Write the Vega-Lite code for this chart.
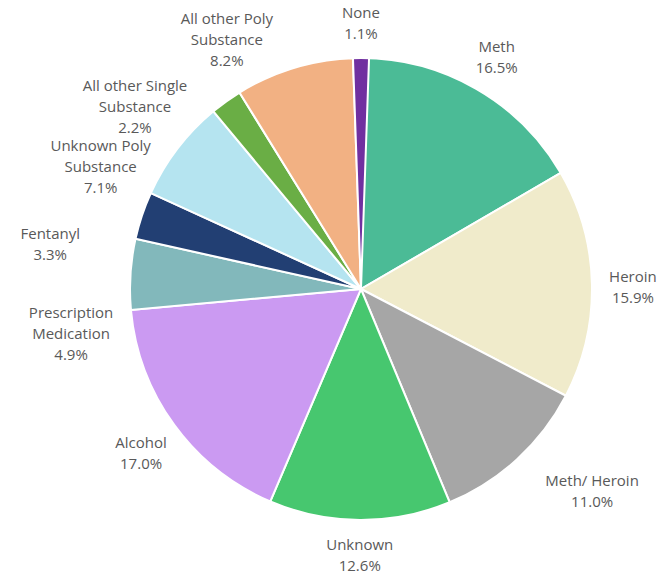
{
  "$schema": "https://vega.github.io/schema/vega-lite/v6.json",
  "width": 622,
  "height": 574,
  "autosize": "none",
  "padding": {"left": 50, "top": 2, "right": 0, "bottom": 0},
  "background": "white",
  "view": {"stroke": null},
  "config": {
    "text": {"font": "Open Sans", "fontSize": 15, "lineHeight": 21, "color": "#595959", "align": "center", "baseline": "middle", "lineBreak": "\n"}
  },
  "data": {
    "values": [
      {"name": "Meth", "pct": 16.5},
      {"name": "Heroin", "pct": 15.9},
      {"name": "Meth/ Heroin", "pct": 11.0},
      {"name": "Unknown", "pct": 12.6},
      {"name": "Alcohol", "pct": 17.0},
      {"name": "Prescription\nMedication", "pct": 4.9},
      {"name": "Fentanyl", "pct": 3.3},
      {"name": "Unknown Poly\nSubstance", "pct": 7.1},
      {"name": "All other Single\nSubstance", "pct": 2.2},
      {"name": "All other Poly\nSubstance", "pct": 8.2},
      {"name": "None", "pct": 1.1}
    ]
  },
  "transform": [
    {"window": [{"op": "row_number", "as": "idx"}]},
    {"stack": "pct", "groupby": [], "sort": [{"field": "idx", "order": "ascending"}], "as": ["t0", "t1"]},
    {"calculate": "(datum.t0 + datum.t1) / 2", "as": "mid"},
    {"calculate": "datum.name + '\\n' + format(datum.pct, '.1f') + '%'", "as": "label"}
  ],
  "resolve": {"scale": {"theta": "shared"}},
  "layer": [
    {
      "mark": {"type": "arc", "outerRadius": 231, "stroke": "white", "strokeWidth": 2},
      "encoding": {
        "theta": {"field": "t0", "type": "quantitative", "stack": null, "scale": {"nice": false, "zero": true}},
        "theta2": {"field": "t1"},
        "color": {
          "field": "name",
          "type": "nominal",
          "legend": null,
          "scale": {
            "domain": ["Meth", "Heroin", "Meth/ Heroin", "Unknown", "Alcohol", "Prescription\nMedication", "Fentanyl", "Unknown Poly\nSubstance", "All other Single\nSubstance", "All other Poly\nSubstance", "None"],
            "range": ["#4BBB96", "#F0EBCB", "#A6A6A6", "#47C76F", "#CB9AF2", "#82B8BB", "#223F73", "#B5E4F0", "#6AAE45", "#F2B183", "#7030A0"]
          }
        }
      }
    },
    {
      "transform": [{"filter": "indexof(['Meth', 'Heroin', 'Alcohol'], datum.name) >= 0"}],
      "mark": {"type": "text", "radius": 272, "dy": -6},
      "encoding": {
        "theta": {"field": "mid", "type": "quantitative", "stack": null, "scale": {"nice": false, "zero": true}},
        "text": {"field": "label", "type": "nominal"}
      }
    },
    {
      "transform": [{"filter": "indexof(['Unknown', 'None'], datum.name) >= 0"}],
      "mark": {"type": "text", "radius": 266, "dy": -10},
      "encoding": {
        "theta": {"field": "mid", "type": "quantitative", "stack": null, "scale": {"nice": false, "zero": true}},
        "text": {"field": "label", "type": "nominal"}
      }
    },
    {
      "transform": [{"filter": "datum.name == 'Meth/ Heroin'"}],
      "mark": {"type": "text", "radius": 307, "thetaOffset": -0.11, "dy": -10.5},
      "encoding": {
        "theta": {"field": "mid", "type": "quantitative", "stack": null, "scale": {"nice": false, "zero": true}},
        "text": {"field": "label", "type": "nominal"}
      }
    },
    {
      "transform": [{"filter": "datum.name == 'Fentanyl'"}],
      "mark": {"type": "text", "radius": 314, "thetaOffset": -0.18, "dy": -10.5},
      "encoding": {
        "theta": {"field": "mid", "type": "quantitative", "stack": null, "scale": {"nice": false, "zero": true}},
        "text": {"field": "label", "type": "nominal"}
      }
    },
    {
      "transform": [{"filter": "indexof(['Prescription\\nMedication', 'Unknown Poly\\nSubstance', 'All other Poly\\nSubstance'], datum.name) >= 0"}],
      "mark": {"type": "text", "radius": 292, "thetaOffset": -0.183, "dy": -11},
      "encoding": {
        "theta": {"field": "mid", "type": "quantitative", "stack": null, "scale": {"nice": false, "zero": true}},
        "text": {"field": "label", "type": "nominal"}
      }
    },
    {
      "transform": [{"filter": "datum.name == 'All other Single\\nSubstance'"}],
      "mark": {"type": "text", "radius": 290, "thetaOffset": -0.27, "dy": -21},
      "encoding": {
        "theta": {"field": "mid", "type": "quantitative", "stack": null, "scale": {"nice": false, "zero": true}},
        "text": {"field": "label", "type": "nominal"}
      }
    }
  ]
}
